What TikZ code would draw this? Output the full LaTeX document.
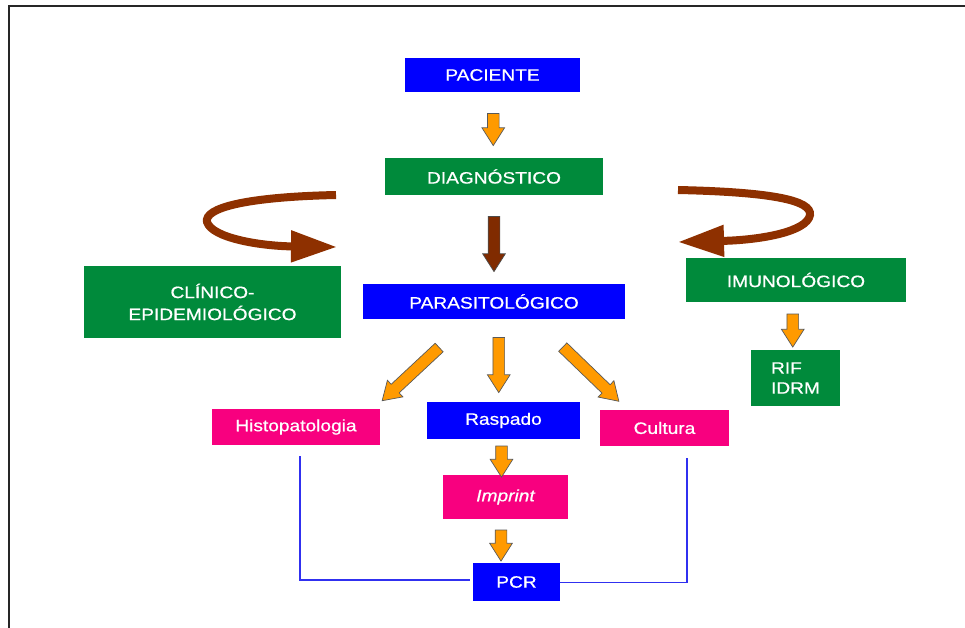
\documentclass[tikz,border=0pt]{standalone}
\usepackage{tikz}
\usepackage{xcolor}
\usepackage{fontspec}
\usetikzlibrary{shapes.arrows,arrows.meta,calc}
\newfontfamily\boxfont{Liberation Sans}[FakeStretch=1.16, FakeBold=0.6]
\definecolor{blue1}{HTML}{0000FF}
\definecolor{green1}{HTML}{008A3B}
\definecolor{pink1}{HTML}{F8007F}
\definecolor{orange1}{HTML}{FF9A00}
\definecolor{brown1}{HTML}{8E3000}
\definecolor{line1}{HTML}{3030F0}

\tikzset{
  box/.style={inner sep=0pt, text=white, font=\boxfont\fontsize{16.5}{20}\selectfont, align=center},
  blockarrow/.style={single arrow, draw=black!65, line width=0.7pt, fill=orange1,
    inner sep=5.5pt, minimum width=22pt, single arrow head extend=5.5pt,
    single arrow tip angle=65},
  turnarrow/.style={draw=brown1, line width=8pt, -{Triangle[length=46pt,width=30pt]}},
  pcrline/.style={draw=line1, line width=1.1pt}
}

\begin{document}
\begin{tikzpicture}[x=1pt,y=-1pt]

\useasboundingbox (0,0) rectangle (965,628);
\draw[line width=1.6pt, black!85] (9,628) -- (9,6) -- (965,6);

% boxes
\node (pac) at (492.5,75) [box, fill=blue1, minimum width=175pt, minimum height=34pt] {PACIENTE};
\node (diag) at (494,176.5) [box, fill=green1, minimum width=218pt, minimum height=37pt] {DIAGN\'OSTICO};
\node (clin) at (212.5,302) [box, fill=green1, minimum width=257pt, minimum height=72pt] {CL\'INICO-\\[2pt]EPIDEMIOL\'OGICO};
\node (paras) at (494,301.5) [box, fill=blue1, minimum width=262pt, minimum height=35pt] {PARASITOL\'OGICO};
\node (imuno) at (796,280) [box, fill=green1, minimum width=220pt, minimum height=44pt] {IMUNOL\'OGICO};
\node (rif) at (795.5,378) [box, fill=green1, minimum width=89pt, minimum height=56pt, align=left] {RIF\\IDRM};

\node (hist) at (296,427) [box, fill=pink1, minimum width=168pt, minimum height=36pt] {Histopatologia};
\node (rasp) at (503.5,420.5) [box, fill=blue1, minimum width=153pt, minimum height=37pt] {Raspado};
\node (cult) at (664.5,428) [box, fill=pink1, minimum width=129pt, minimum height=36pt] {Cultura};
\node (impr) at (505.5,497) [box, fill=pink1, minimum width=125pt, minimum height=44pt] {\itshape Imprint};
\node (pcr) at (516.5,582) [box, fill=blue1, minimum width=87pt, minimum height=38pt] {PCR};

% block arrows
\node (a1) at ($(pac.south)!0.5!(diag.north)$) [blockarrow, rotate=-90, minimum height=32pt] {};
\node (a2) at ($(diag.south)!0.5!(paras.north)$) [blockarrow, rotate=-90, minimum height=55pt,
  fill=brown1!90!black, draw=black!70] {};
\node (a3) at ($(paras.south)!0.5!(rasp.north)$) [blockarrow, rotate=-90, minimum height=55pt] {};
\node (a4) at (414,371) [blockarrow, rotate=-137, minimum height=78pt] {};
\node (a5) at (587.5,371) [blockarrow, rotate=-44, minimum height=78pt] {};
\node (a6) at ([xshift=-3pt]$(rasp.south)!0.5!(impr.north)$) [blockarrow, rotate=-90, minimum height=31pt] {};
\node (a7) at ([xshift=-10pt]$(impr.south)!0.5!(pcr.north)$) [blockarrow, rotate=-90, minimum height=31pt] {};
\node (a8) at ([xshift=-3pt]$(imuno.south)!0.5!(rif.north)$) [blockarrow, rotate=-90, minimum height=33pt] {};

% turning arrows
\coordinate (lt) at (336,195);
\coordinate (rt) at (678,190);
\draw[turnarrow] (lt) .. controls (245,197) and (204,208) .. (207,222)
  .. controls (212,238) and (260,246) .. (337,247);
\draw[turnarrow] (rt) .. controls (770,192) and (812,200) .. (810,215)
  .. controls (807,232) and (760,240) .. (678,242);

% pcr lines
\draw[pcrline] ([xshift=4pt,yshift=-11pt]hist.south) |- ([xshift=-3pt,yshift=2pt]pcr.west);
\draw[pcrline] ([xshift=22.5pt,yshift=-12pt]cult.south) |- ([yshift=-0.5pt]pcr.east);

\end{tikzpicture}
\end{document}
